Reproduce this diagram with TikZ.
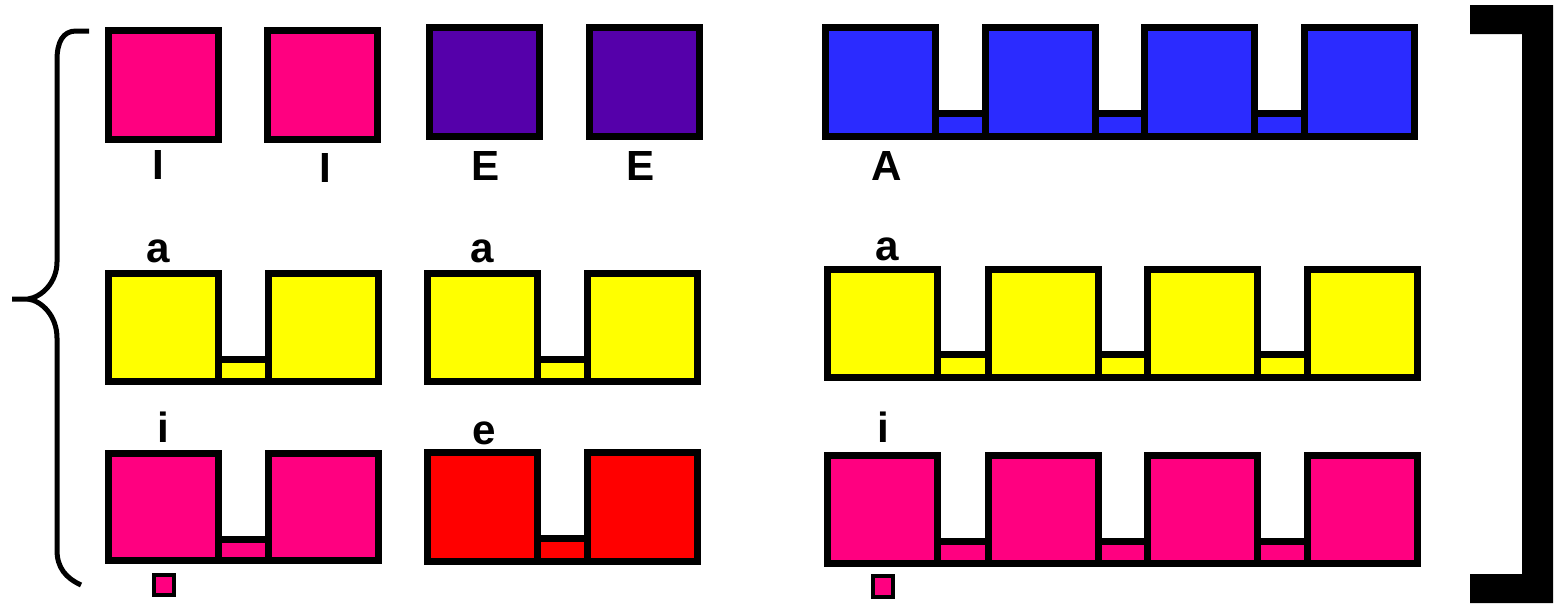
\documentclass[tikz,border=0pt]{standalone}
\usepackage{fontspec}
\setmainfont{Liberation Sans}
\usetikzlibrary{positioning}
\definecolor{cellpink}{HTML}{FF0080}
\definecolor{cellpurple}{HTML}{5500AA}
\definecolor{cellblue}{HTML}{2B2BFF}
\definecolor{cellyellow}{HTML}{FFFF00}
\definecolor{cellred}{HTML}{FF0000}
\tikzset{
  cell/.style={
    draw=black,
    line width=0.14cm,
    fill=#1
  },
  dotcell/.style={
    draw=black,
    line width=0.09cm,
    fill=#1
  },
  letter/.style={
    anchor=base,
    inner sep=0pt,
    font=\fontsize{24}{28}\selectfont\bfseries
  },
  brace/.style={
    draw=black,
    line width=0.1cm,
    line join=round
  }
}

\begin{document}
\begin{tikzpicture}[x=0.02cm,y=-0.02cm]
\useasboundingbox (0,0) rectangle (1556,606);
% top row: single cells
\foreach \x in {105,264}
  \draw[cell=cellpink] (\x+3.5,27+3.5) rectangle (\x+113.5,143-3.5);
\foreach \x in {426,586}
  \draw[cell=cellpurple] (\x+3.5,24+3.5) rectangle (\x+113.5,140-3.5);
% top row: chain
\draw[cell=cellblue] (822+3.5,110+3.5) rectangle (1301+113.5,140-3.5);
\foreach \x in {822,982,1141,1301}
  \draw[cell=cellblue] (\x+3.5,24+3.5) rectangle (\x+113.5,140-3.5);
% middle row
\draw[cell=cellyellow] (105+3.5,356+3.5) rectangle (265+113.5,385-3.5);
\draw[cell=cellyellow] (424+3.5,356+3.5) rectangle (584+113.5,385-3.5);
\foreach \x in {105,265,424,584}
  \draw[cell=cellyellow] (\x+3.5,270+3.5) rectangle (\x+113.5,385-3.5);
\draw[cell=cellyellow] (824+3.5,351+3.5) rectangle (1304+113.5,381-3.5);
\foreach \x in {824,985,1144,1304}
  \draw[cell=cellyellow] (\x+3.5,266+3.5) rectangle (\x+113.5,381-3.5);
% bottom row
\draw[cell=cellpink] (105+3.5,536+3.5) rectangle (265+113.5,564-3.5);
\foreach \x in {105,265}
  \draw[cell=cellpink] (\x+3.5,450+3.5) rectangle (\x+113.5,564-3.5);
\draw[cell=cellred] (424+3.5,535+3.5) rectangle (584+113.5,565-3.5);
\foreach \x in {424,584}
  \draw[cell=cellred] (\x+3.5,449+3.5) rectangle (\x+113.5,565-3.5);
\draw[cell=cellpink] (824+3.5,538+3.5) rectangle (1304+113.5,567-3.5);
\foreach \x in {824,985,1144,1304}
  \draw[cell=cellpink] (\x+3.5,452+3.5) rectangle (\x+113.5,567-3.5);
% small cells
\draw[dotcell=cellpink] (154,575) rectangle (174,595);
\draw[dotcell=cellpink] (873,576) rectangle (893,597);
% labels
\node[letter] (capI1) at (158,179) {I};
\node[letter] (capI2) at (325,182) {I};
\node[letter] (capE1) at (486,180) {E};
\node[letter] (capE2) at (641,180) {E};
\node[letter] (capA) at (887,180) {A};
\node[letter] (smA1) at (158,262) {a};
\node[letter] (smA2) at (482,262) {a};
\node[letter] (smA3) at (887,260) {a};
\node[letter] (smI1) at (163,442) {i};
\node[letter] (smE) at (484,444) {e};
\node[letter] (smI2) at (883,442) {i};
% left brace
\draw[brace] (89,31) -- (76,31) .. controls (63,31) and (57,42) .. (57,60)
  -- (57,262) .. controls (57,282) and (42,297) .. (28,299) -- (12,299);
\draw[brace] (28,299) .. controls (42,301) and (57,316) .. (57,338)
  -- (57,550) .. controls (57,568) and (66,578) .. (81,585);
% right bracket
\fill[black] (1470,5) -- (1553,5) -- (1553,603) -- (1470,603) -- (1470,574)
  -- (1522,574) -- (1522,34) -- (1470,34) -- cycle;
\end{tikzpicture}
\end{document}
